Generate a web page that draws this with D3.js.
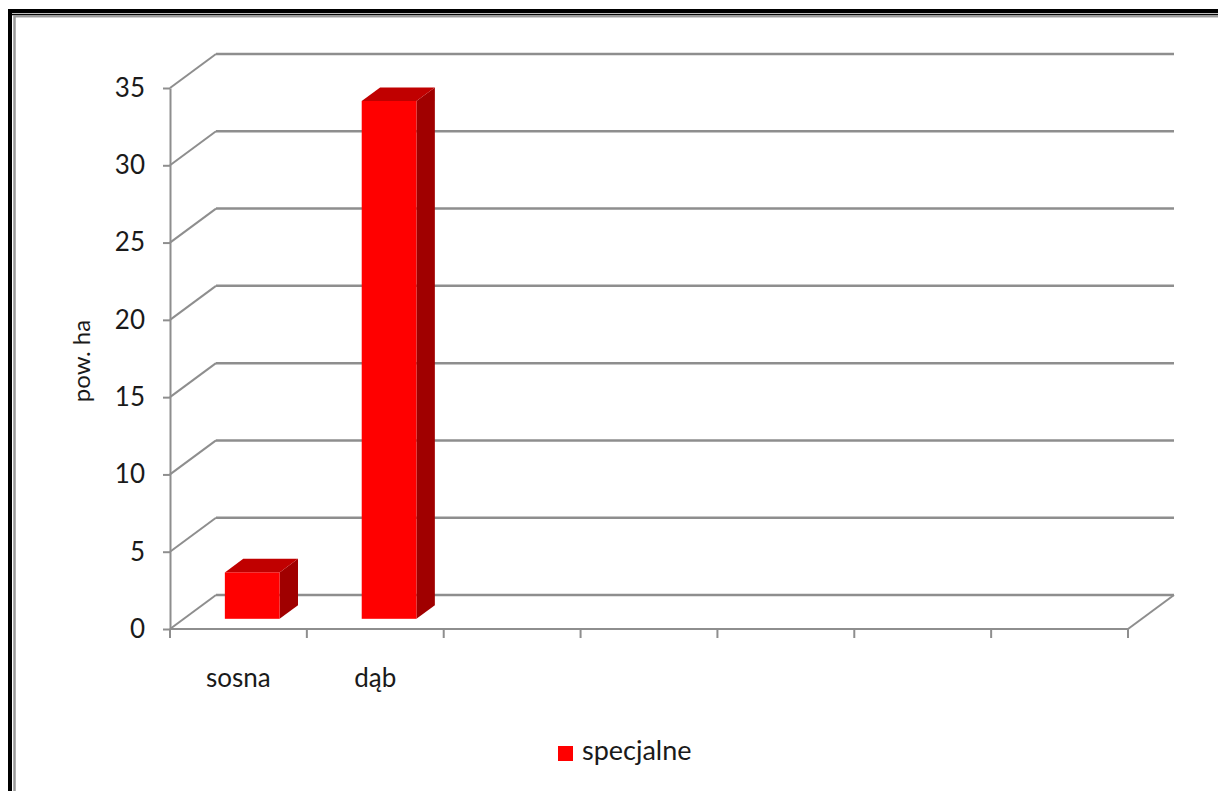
<!DOCTYPE html>
<html>
<head>
<meta charset="utf-8">
<script src="https://cdn.jsdelivr.net/npm/d3@7"></script>
<style>
  body { margin: 0; background: #fff; }
  svg { display: block; }
  text { font-family: Lato, "Open Sans", sans-serif; fill: #1a1a1a; }
</style>
</head>
<body>
<svg id="chart" width="1218" height="791"></svg>
<script>
// Data
const categories = ["sosna", "dąb", "c3", "c4", "c5", "c6", "c7"];
const categoryLabels = ["sosna", "dąb", "", "", "", "", ""];
const seriesName = "specjalne";
const values = [3.0, 33.5];
const yTicks = [0, 5, 10, 15, 20, 25, 30, 35];

const svg = d3.select("#chart");

// frame (runs off the right and bottom of the picture)
svg.append("rect")
    .attr("x", 10).attr("y", 11)
    .attr("width", 1300).attr("height", 900)
    .attr("fill", "#fff")
    .attr("stroke", "#000")
    .attr("stroke-width", 4);
svg.append("line")
    .attr("x1", 12).attr("x2", 1218)
    .attr("y1", 14.5).attr("y2", 14.5)
    .attr("stroke", "#000").attr("stroke-width", 1.5);
svg.append("rect")
    .attr("x", 14.5).attr("y", 16.2)
    .attr("width", 1300).attr("height", 900)
    .attr("fill", "none")
    .attr("stroke", "#9a9a9a")
    .attr("stroke-width", 2.5);

// 3D depth offset of the back wall
const depthX = 46, depthY = -34;

const x = d3.scaleBand()
    .domain(categories)
    .range([170, 1128]);

const y = d3.scaleLinear()
    .domain([0, 35])
    .range([629, 88]);

const gridColor = "#8e8e8e";

// gridlines: diagonal on the side wall + horizontal on the back wall
const grid = svg.append("g").attr("class", "grid");
yTicks.forEach(t => {
    grid.append("line")
        .attr("x1", x.range()[0]).attr("y1", y(t))
        .attr("x2", x.range()[0] + depthX).attr("y2", y(t) + depthY)
        .attr("stroke", gridColor).attr("stroke-width", 2);
    grid.append("line")
        .attr("x1", x.range()[0] + depthX).attr("y1", y(t) + depthY)
        .attr("x2", x.range()[1] + depthX).attr("y2", y(t) + depthY)
        .attr("stroke", gridColor).attr("stroke-width", 2.5);
});

// floor front edge and right edge
grid.append("line")
    .attr("x1", x.range()[0]).attr("y1", y(0))
    .attr("x2", x.range()[1]).attr("y2", y(0))
    .attr("stroke", gridColor).attr("stroke-width", 2);
grid.append("line")
    .attr("x1", x.range()[1]).attr("y1", y(0))
    .attr("x2", x.range()[1] + depthX).attr("y2", y(0) + depthY)
    .attr("stroke", gridColor).attr("stroke-width", 2);

// Y axis
const yAxis = svg.append("g")
    .attr("transform", "translate(" + x.range()[0] + ",0)")
    .call(d3.axisLeft(y).tickValues(yTicks).tickSize(7).tickPadding(18).tickSizeOuter(0));
yAxis.select(".domain").attr("stroke", gridColor).attr("stroke-width", 2);
yAxis.selectAll(".tick line").attr("stroke", gridColor).attr("stroke-width", 2);
yAxis.selectAll(".tick text")
    .style("font-family", "Lato, 'Open Sans', sans-serif")
    .style("font-size", "26px")
    .attr("fill", "#1a1a1a");

// X axis: labels centred in band, ticks at band edges
const xAxis = svg.append("g")
    .attr("transform", "translate(0," + y(0) + ")")
    .call(d3.axisBottom(x).tickSize(0).tickPadding(40).tickFormat((d, i) => categoryLabels[i]));
xAxis.select(".domain").remove();
xAxis.selectAll(".tick text")
    .style("font-family", "Lato, 'Open Sans', sans-serif")
    .style("font-size", "26px")
    .attr("fill", "#1a1a1a");

const edges = categories.map(c => x(c)).concat([x.range()[1]]);
svg.append("g").selectAll("line")
    .data(edges)
    .enter().append("line")
    .attr("x1", d => d).attr("x2", d => d)
    .attr("y1", y(0)).attr("y2", y(0) + 9)
    .attr("stroke", gridColor).attr("stroke-width", 2);

// 3D bars
const frontDepth = 0.3, backDepth = 0.7;
const barFrac = 0.4;
const bars = svg.append("g").attr("class", "bars");
values.forEach((v, i) => {
    const bw = x.bandwidth() * barFrac;
    const x0 = x(categories[i]) + (x.bandwidth() - bw) / 2 + depthX * frontDepth;
    const x1 = x0 + bw;
    const yb = y(0) + depthY * frontDepth;
    const yt = y(v) + depthY * frontDepth;
    const ddx = depthX * (backDepth - frontDepth);
    const ddy = depthY * (backDepth - frontDepth);
    // side face
    bars.append("path")
        .attr("d", `M${x1},${yt} L${x1 + ddx},${yt + ddy} L${x1 + ddx},${yb + ddy} L${x1},${yb} Z`)
        .attr("fill", "#a00000");
    // top face
    bars.append("path")
        .attr("d", `M${x0},${yt} L${x0 + ddx},${yt + ddy} L${x1 + ddx},${yt + ddy} L${x1},${yt} Z`)
        .attr("fill", "#c00000");
    // front face
    bars.append("rect")
        .attr("x", x0).attr("y", yt)
        .attr("width", bw).attr("height", yb - yt)
        .attr("fill", "#ff0000");
});

// Y axis title
svg.append("text")
    .attr("transform", "translate(90,361) rotate(-90)")
    .attr("text-anchor", "middle")
    .style("font-size", "24px")
    .text("pow. ha");

// Legend
const legend = svg.append("g").attr("transform", "translate(558,746)");
legend.append("rect")
    .attr("width", 15).attr("height", 15)
    .attr("fill", "#ff0000");
legend.append("text")
    .attr("x", 24).attr("y", 14)
    .style("font-size", "27px")
    .text(seriesName);
</script>
</body>
</html>
